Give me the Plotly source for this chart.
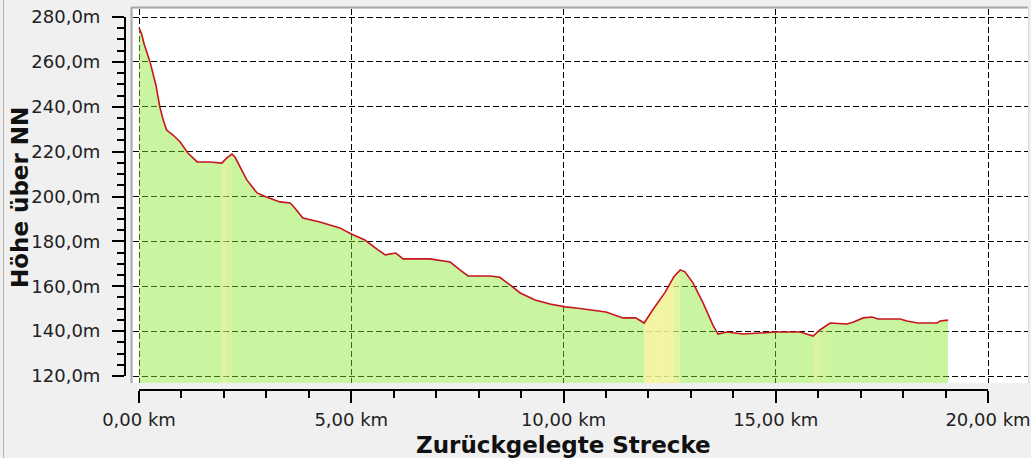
import plotly.graph_objects as go

# ---- data ----
dist_km = [0.00, 0.06, 0.12, 0.26, 0.40, 0.49, 0.57, 0.65, 0.80, 0.97, 1.15, 1.37, 1.67, 1.84,
           1.95, 2.07, 2.19, 2.26, 2.38, 2.54, 2.78, 3.00, 3.32, 3.56, 3.67, 3.86, 4.26, 4.73,
           5.00, 5.32, 5.63, 5.80, 6.05, 6.22, 6.85, 7.33, 7.56, 7.75, 8.27, 8.50, 8.74, 8.98,
           9.33, 9.68, 10.04, 10.30, 11.00, 11.40, 11.70, 11.90, 12.10, 12.40, 12.60, 12.75,
           12.86, 13.05, 13.29, 13.52, 13.64, 13.85, 14.23, 15.00, 15.57, 15.88, 16.04, 16.28,
           16.68, 16.82, 17.06, 17.27, 17.41, 17.93, 18.09, 18.35, 18.80, 18.87, 19.06]
elev_m = [275.2, 272.5, 268.0, 260.0, 249.5, 240.0, 234.1, 229.6, 227.4, 224.3, 219.4, 215.4,
          215.4, 214.9, 214.9, 217.2, 218.9, 217.6, 213.2, 207.4, 201.6, 199.8, 197.6, 197.1,
          194.9, 190.4, 188.6, 186.0, 183.3, 180.6, 176.2, 174.0, 174.8, 172.2, 172.2, 170.8,
          167.3, 164.6, 164.6, 164.0, 160.6, 157.0, 153.9, 152.1, 150.8, 150.3, 148.5, 145.9,
          145.9, 143.6, 149.4, 157.5, 164.2, 167.3, 166.4, 161.5, 152.5, 142.7, 138.7, 139.6,
          138.7, 139.6, 139.6, 137.8, 140.5, 143.6, 143.2, 144.0, 145.9, 146.3, 145.4, 145.4,
          144.5, 143.6, 143.6, 144.5, 144.9]

x_tick_vals = [0, 5, 10, 15, 20]
x_tick_text = ["0,00 km", "5,00 km", "10,00 km", "15,00 km", "20,00 km"]
y_tick_vals = [120, 140, 160, 180, 200, 220, 240, 260, 280]
y_tick_text = ["120,0m", "140,0m", "160,0m", "180,0m", "200,0m", "220,0m", "240,0m", "260,0m", "280,0m"]

x_title = "Zurückgelegte Strecke"
y_title = "Höhe über NN"

# ---- geometry (pixels of the 1031x458 page) ----
W, H = 1031, 458
plot_l, plot_r, plot_t, plot_b = 133, 1028, 9, 383      # white plot area
ax_l, ax_r, ax_t, ax_b = 139, 988, 17, 376               # 0..20 km, 280..120 m
px_per_km = (ax_r - ax_l) / 20.0
px_per_m = (ax_b - ax_t) / 160.0
x_range = [0 - (ax_l - plot_l) / px_per_km, 20 + (plot_r - ax_r) / px_per_km]
y_range = [120 - (plot_b - ax_b) / px_per_m, 280 + (ax_t - plot_t) / px_per_m]

def fx(px):
    return px / W

def fy(py):
    return 1 - py / H

FONT = "DejaVu Sans"

fig = go.Figure()

# base green area (semi-transparent so the grid shows through)
fig.add_trace(go.Scatter(x=dist_km, y=elev_m, mode="lines", fill="tozeroy",
                         fillcolor="rgba(135,232,45,0.45)", line=dict(width=0),
                         hoverinfo="skip", showlegend=False))

# yellow tint on climbing stretches (intensity from the grade)
for i in range(len(dist_km) - 1):
    d0, d1 = dist_km[i], dist_km[i + 1]
    e0, e1 = elev_m[i], elev_m[i + 1]
    grade = (e1 - e0) / ((d1 - d0) * 10.0)   # percent
    t = max(0.0, min(1.0, (grade - 1.0) / 1.8))
    if t <= 0:
        continue
    fig.add_trace(go.Scatter(x=[d0, d1], y=[e0, e1], mode="lines", fill="tozeroy",
                             fillcolor=f"rgba(255,244,165,{0.8 * t:.3f})", line=dict(width=0),
                             hoverinfo="skip", showlegend=False))

# profile line
fig.add_trace(go.Scatter(x=dist_km, y=elev_m, mode="lines",
                         line=dict(color="#c8141e", width=1.6),
                         hoverinfo="skip", showlegend=False))

# invisible trace carrying the offset tick axes
fig.add_trace(go.Scatter(x=[0, 20], y=[120, 280], mode="markers", marker=dict(opacity=0),
                         xaxis="x2", yaxis="y2", hoverinfo="skip", showlegend=False))

tickfont = dict(family=FONT, size=18, color="#222222")

fig.update_layout(
    width=W, height=H, autosize=False,
    margin=dict(l=0, r=0, t=0, b=0, pad=0, autoexpand=False),
    paper_bgcolor="#f0f0f0",
    plot_bgcolor="rgba(0,0,0,0)",
    showlegend=False,
    xaxis=dict(domain=[fx(plot_l), fx(plot_r)], range=x_range, tickmode="array",
               tickvals=x_tick_vals, showticklabels=False, ticks="", showline=False,
               zeroline=False, showgrid=True, gridcolor="black", gridwidth=1,
               griddash="6px,3px", automargin=False),
    yaxis=dict(domain=[fy(plot_b), fy(plot_t)], range=y_range, tickmode="array",
               tickvals=y_tick_vals, showticklabels=False, ticks="", showline=False,
               zeroline=False, showgrid=True, gridcolor="black", gridwidth=1,
               griddash="6px,3px", automargin=False),
    xaxis2=dict(domain=[fx(ax_l), fx(ax_r)], range=[0, 20], anchor="free", position=fy(390),
                showgrid=False, zeroline=False, showline=True, linecolor="black", linewidth=2,
                ticks="outside", ticklen=12, tickwidth=2, tickcolor="black",
                tickmode="array", tickvals=x_tick_vals, ticktext=x_tick_text,
                ticklabelstandoff=1, tickfont=tickfont, automargin=False,
                minor=dict(tickmode="linear", tick0=0, dtick=1, ticks="outside", ticklen=7,
                           tickwidth=2, tickcolor="black", showgrid=False)),
    yaxis2=dict(domain=[fy(ax_b), fy(ax_t)], range=[120, 280], anchor="free", position=fx(125),
                side="left", showgrid=False, zeroline=False, showline=True, linecolor="black",
                linewidth=2, ticks="outside", ticklen=12, tickwidth=2, tickcolor="black",
                tickmode="array", tickvals=y_tick_vals, ticktext=y_tick_text,
                ticklabelstandoff=8, tickfont=tickfont, automargin=False,
                minor=dict(tickmode="linear", tick0=120, dtick=5, ticks="outside", ticklen=7,
                           tickwidth=2, tickcolor="black", showgrid=False)),
    annotations=[
        dict(text=f"<b>{x_title}</b>", xref="paper", yref="paper", x=fx(563), y=fy(445),
             xanchor="center", yanchor="middle", showarrow=False,
             font=dict(family=FONT, size=23, color="#111111")),
        dict(text=f"<b>{y_title}</b>", xref="paper", yref="paper", x=fx(20), y=fy(198),
             xanchor="center", yanchor="middle", showarrow=False, textangle=-90,
             font=dict(family=FONT, size=23, color="#111111")),
    ],
    shapes=[
        # white plot area
        dict(type="rect", xref="paper", yref="paper", x0=fx(plot_l), x1=fx(plot_r),
             y0=fy(plot_b), y1=fy(plot_t), fillcolor="white", line=dict(width=0), layer="below"),
        # sunken frame
        dict(type="line", xref="paper", yref="paper", x0=fx(131.5), x1=fx(131.5),
             y0=fy(plot_b), y1=fy(7), line=dict(color="#a8a8a8", width=2), layer="above"),
        dict(type="line", xref="paper", yref="paper", x0=fx(131), x1=fx(plot_r),
             y0=fy(7.5), y1=fy(7.5), line=dict(color="#a8a8a8", width=2), layer="above"),
        dict(type="line", xref="paper", yref="paper", x0=fx(1028.5), x1=fx(1028.5),
             y0=fy(plot_b), y1=fy(7), line=dict(color="#d8d8d8", width=1), layer="above"),
        # outer window edge
        dict(type="line", xref="paper", yref="paper", x0=fx(3.5), x1=fx(3.5),
             y0=0, y1=1, line=dict(color="#b4b4b4", width=1), layer="above"),
    ],
)

fig.write_html("out.html", config={"responsive": False, "displayModeBar": False},
               post_script="document.body.style.margin='0';document.body.style.overflow='hidden';")
